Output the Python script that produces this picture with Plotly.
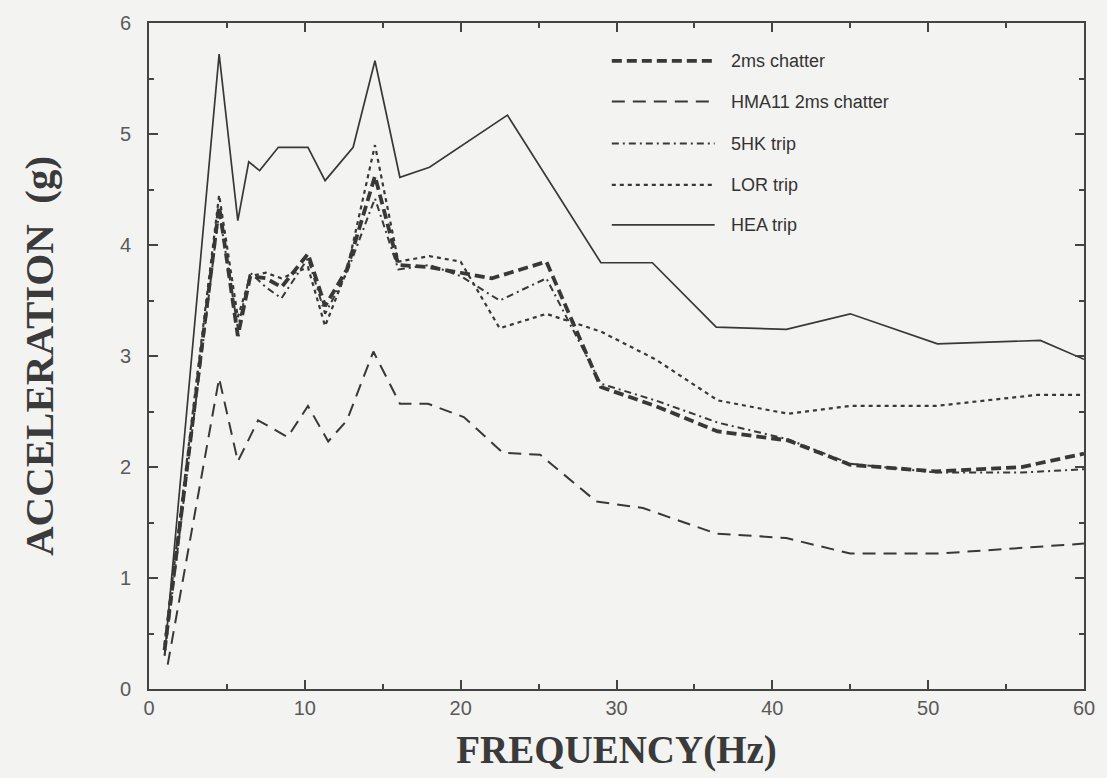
import plotly.graph_objects as go

# Response spectra: frequency (Hz) vs acceleration (g)
freq_2ms = [1.0, 4.5, 5.7, 6.5, 7.5, 8.5, 10.2, 11.3, 12.7, 14.5, 16.0, 18.0, 20.0, 22.0, 25.5,
            29.0, 32.5, 36.5, 41.0, 45.0, 50.5, 56.0, 60.0]
acc_2ms = [0.35, 4.35, 3.18, 3.72, 3.70, 3.62, 3.92, 3.45, 3.78, 4.62, 3.82, 3.80, 3.75, 3.70, 3.85,
           2.72, 2.55, 2.32, 2.24, 2.02, 1.96, 2.00, 2.12]

freq_hma = [1.2, 4.5, 5.7, 7.0, 8.9, 10.2, 11.5, 12.7, 14.4, 16.1, 17.9, 20.2, 22.7, 25.1,
            28.7, 31.7, 36.4, 40.9, 45.0, 50.7, 60.0]
acc_hma = [0.22, 2.80, 2.05, 2.42, 2.27, 2.55, 2.23, 2.42, 3.04, 2.57, 2.57, 2.45, 2.13, 2.11,
           1.69, 1.63, 1.40, 1.36, 1.22, 1.22, 1.31]

freq_5hk = [1.0, 4.5, 5.7, 6.5, 7.5, 8.5, 10.2, 11.3, 12.7, 14.5, 16.0, 18.0, 20.0, 22.5, 25.5,
            29.0, 32.5, 36.5, 41.0, 45.0, 50.5, 56.0, 60.0]
acc_5hk = [0.30, 4.30, 3.25, 3.75, 3.62, 3.52, 3.88, 3.38, 3.75, 4.42, 3.78, 3.82, 3.72, 3.50, 3.70,
           2.75, 2.60, 2.40, 2.25, 2.03, 1.95, 1.95, 1.98]

freq_lor = [1.0, 4.5, 5.7, 6.5, 7.5, 8.5, 10.2, 11.3, 12.7, 14.5, 16.0, 18.0, 20.0, 22.5, 25.5,
            29.0, 32.5, 36.5, 41.0, 45.0, 50.5, 57.0, 60.0]
acc_lor = [0.40, 4.45, 3.35, 3.72, 3.75, 3.70, 3.80, 3.27, 3.77, 4.90, 3.85, 3.90, 3.85, 3.25, 3.38,
           3.22, 2.97, 2.60, 2.48, 2.55, 2.55, 2.65, 2.65]

freq_hea = [1.0, 4.5, 5.7, 6.4, 7.1, 8.3, 10.2, 11.3, 13.1, 14.5, 16.1, 18.0, 23.0, 29.0, 32.3,
            36.4, 40.9, 45.0, 50.6, 57.2, 60.0]
acc_hea = [0.30, 5.72, 4.22, 4.75, 4.67, 4.88, 4.88, 4.58, 4.88, 5.66, 4.61, 4.70, 5.17, 3.84, 3.84,
           3.26, 3.24, 3.38, 3.11, 3.14, 2.97]

series_names = ["2ms chatter", "HMA11 2ms chatter", "5HK trip", "LOR trip", "HEA trip"]

INK = "#383838"
BG = "#f3f3f1"

styles = [
    dict(width=3.8, dash="10px,5px"),
    dict(width=2.0, dash="13px,8px"),
    dict(width=2.0, dash="7px,4px,2px,4px"),
    dict(width=2.2, dash="4px,4px"),
    dict(width=1.7, dash="solid"),
]

data = [(freq_2ms, acc_2ms), (freq_hma, acc_hma), (freq_5hk, acc_5hk),
        (freq_lor, acc_lor), (freq_hea, acc_hea)]

fig = go.Figure()
for (fx, fy), name, st in zip(data, series_names, styles):
    fig.add_trace(go.Scatter(x=fx, y=fy, mode="lines", name=name, showlegend=False,
                             line=dict(color=INK, width=st["width"], dash=st["dash"])))

# Hand-drawn key in the upper right of the plot area
key_y = [0.943, 0.882, 0.819, 0.757, 0.697]
for name, st, ky in zip(series_names, styles, key_y):
    fig.add_shape(type="line", xref="paper", yref="paper", x0=0.495, x1=0.605, y0=ky, y1=ky,
                  line=dict(color=INK, width=st["width"], dash=st["dash"]))
    fig.add_annotation(xref="paper", yref="paper", x=0.620, y=ky, text=name, showarrow=False,
                       xanchor="left", yanchor="middle",
                       font=dict(family="Liberation Sans, Arial", size=18, color="#333333"))

axis_common = dict(showline=True, linecolor="#444444", linewidth=2, mirror="allticks",
                   ticks="inside", tickcolor="#444444", tickwidth=1.5, ticklen=9,
                   showgrid=False, zeroline=False,
                   tickfont=dict(family="Liberation Sans, Arial", size=20, color="#5a5a5a"))

fig.update_xaxes(range=[0, 60], tick0=0, dtick=10, ticklabelstandoff=0,
                 minor=dict(dtick=5, ticks="inside", ticklen=5, tickcolor="#444444", tickwidth=1.5),
                 title=dict(text="FREQUENCY(Hz)", standoff=18,
                            font=dict(family="Liberation Serif, Times New Roman", size=39,
                                      color="#3a3a3a", weight="bold")),
                 **axis_common)
fig.update_yaxes(range=[0, 6], tick0=0, dtick=1, ticklabelstandoff=12,
                 minor=dict(dtick=0.5, ticks="inside", ticklen=5, tickcolor="#444444", tickwidth=1.5),
                 title=dict(text="ACCELERATION  (g)", standoff=54,
                            font=dict(family="Liberation Serif, Times New Roman", size=41,
                                      color="#3a3a3a", weight="bold")),
                 **axis_common)

fig.update_layout(width=1107, height=778, paper_bgcolor=BG, plot_bgcolor=BG,
                  margin=dict(l=149, r=22, t=19, b=89))

fig.write_html("out.html")
